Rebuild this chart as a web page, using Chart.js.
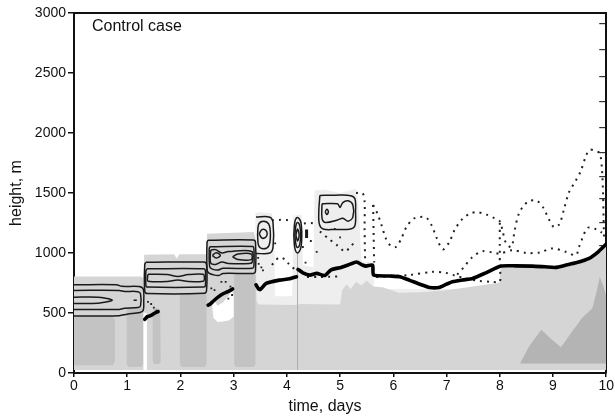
<!DOCTYPE html>
<html>
<head>
<meta charset="utf-8">
<script src="https://cdn.jsdelivr.net/npm/chart.js@4.4.1/dist/chart.umd.min.js"></script>
<style>
  body { margin: 0; background: #fff; }
  canvas { display: block; }
</style>
</head>
<body>
<canvas id="chart" width="615" height="419"></canvas>
<script>
// texts
const caseLabel = 'Control case';
const xTitle = 'time, days';
const yTitle = 'height, m';

// axis ticks (m)
const yTicks = [0, 500, 1000, 1500, 2000, 2500, 3000];
const rightTicks = [75, 164, 339, 516, 697, 880, 1065, 1251, 1455, 1640, 1835, 2048, 2258, 2471, 2694, 2910];

// grey field, [time in days, height in m]
const greyStreaks = [[0, 25], [3.41, 25], [3.41, 1335], [3.5, 1340], [3.72, 1330], [3.76, 1200], [3.78, 640], [4.1, 640], [4.12, 1310],
  [4.28, 1320], [4.3, 900], [4.5, 880], [4.52, 1520], [4.7, 1530], [5.0, 1500], [5.3, 1535], [5.35, 1400], [5.4, 930],
  [5.62, 920], [5.64, 700], [10, 700]];
const greyField = [[0, 805], [1.26, 805], [1.3, 790], [1.32, 985], [1.88, 990], [1.93, 955], [1.98, 990], [2.48, 990], [2.5, 1160],
  [3.38, 1175], [3.41, 1120], [3.43, 600], [3.47, 570], [4.15, 566], [4.25, 575], [5.0, 570], [5.04, 690], [5.12, 740],
  [5.2, 700], [5.3, 760], [5.4, 730], [5.5, 770], [5.62, 720], [5.8, 715], [6.1, 668], [6.5, 672], [7.0, 690], [7.5, 720],
  [7.99, 752], [8.02, 880], [8.6, 882], [9.05, 872], [9.4, 905], [9.7, 945], [10, 1060]];
const greyColumns = [
  [[0, 468], [0.72, 468], [0.77, 445], [0.77, 95], [0.73, 65], [0, 65]],
  [[1.02, 545], [1.27, 545], [1.3, 520], [1.3, 75], [1.27, 50], [1.02, 50], [0.99, 75], [0.99, 520]],
  [[1.49, 535], [1.6, 540], [1.62, 510], [1.63, 90], [1.6, 75], [1.5, 75], [1.48, 100], [1.48, 510]],
  [[2.02, 668], [2.46, 668], [2.49, 650], [2.49, 75], [2.46, 50], [2.02, 50], [1.99, 75], [1.99, 650]],
  [[3.04, 830], [3.38, 830], [3.41, 810], [3.41, 75], [3.38, 50], [3.04, 50], [3.01, 75], [3.01, 810]]
];
const greyHill = [[8.38, 80], [8.55, 220], [8.78, 360], [8.95, 290], [9.15, 215], [9.35, 340], [9.55, 460], [9.74, 540],
  [9.82, 680], [9.88, 800], [9.95, 720], [10, 640], [10, 80]];
const whiteGaps = [
  [[2.6, 620], [2.7, 560], [2.8, 590], [2.9, 640], [2.97, 690], [3.0, 640], [3.0, 470], [2.92, 440], [2.8, 430], [2.7, 425], [2.62, 460], [2.6, 540]],
  [[1.305, 505], [1.37, 500], [1.37, 25], [1.305, 25]]
];
const streakLine = [[4.2, 1000], [4.2, 25]];

// contour lines
const contours = [
  // day 0 - 1.3
  [[0, 735], [0.8, 735], [0.9, 722], [1.22, 720], [1.3, 700], [1.31, 600], [1.3, 520], [1.24, 505], [1.0, 490], [0.85, 478], [0, 474]],
  [[0, 688], [0.85, 688], [0.95, 680], [1.2, 678], [1.25, 660], [1.25, 560], [1.2, 545], [0.95, 540], [0.85, 530], [0, 530]],
  [[0, 632], [0.45, 632], [0.6, 622], [0.72, 607], [0.6, 592], [0.45, 582], [0, 580]],
  [[1.12, 607], [1.18, 607]],
  // day 1.3 - 2.5
  [[1.35, 922], [2.44, 924], [2.49, 905], [2.49, 685], [2.45, 664], [1.38, 662], [1.33, 680], [1.33, 905], [1.35, 922]],
  [[1.37, 868], [2.44, 868], [2.47, 850], [2.47, 730], [2.44, 716], [1.37, 716], [1.35, 730], [1.35, 850], [1.37, 868]],
  [[1.39, 822], [1.75, 820], [1.95, 805], [2.15, 820], [2.43, 822], [2.45, 800], [2.45, 780], [2.43, 765], [2.15, 762],
    [1.95, 776], [1.75, 762], [1.39, 765], [1.38, 790], [1.39, 822]],
  // day 2.5 - 3.4
  [[2.52, 1107], [3.37, 1108], [3.41, 1090], [3.41, 850], [3.37, 830], [2.8, 830], [2.72, 812], [2.62, 818], [2.53, 835], [2.5, 860], [2.5, 1090], [2.52, 1107]],
  [[2.55, 1052], [3.36, 1054], [3.38, 1035], [3.38, 890], [3.35, 872], [2.8, 872], [2.7, 858], [2.6, 866], [2.55, 885], [2.54, 1030], [2.55, 1052]],
  [[2.57, 1025], [2.66, 1028], [2.78, 1000], [2.9, 1012], [3.34, 1013], [3.35, 925], [3.3, 913], [2.9, 913], [2.78, 925], [2.66, 905], [2.57, 915], [2.56, 970], [2.57, 1025]],
  [[2.6, 980], [2.67, 1002], [2.75, 980], [2.67, 958], [2.6, 980]],
  [[2.98, 968], [3.08, 992], [3.33, 992], [3.33, 945], [3.08, 945], [2.98, 968]],
  // day 3.4 - 3.75
  [[3.42, 1300], [3.68, 1298], [3.74, 1250], [3.74, 1050], [3.68, 1000], [3.42, 996]],
  [[3.45, 1150], [3.47, 1240], [3.56, 1265], [3.66, 1240], [3.69, 1150], [3.66, 1060], [3.56, 1035], [3.47, 1060], [3.45, 1150]],
  [[3.48, 1160], [3.53, 1195], [3.6, 1190], [3.63, 1160], [3.6, 1130], [3.53, 1125], [3.48, 1160]],
  // day 4.2
  [[4.13, 1150], [4.15, 1260], [4.2, 1296], [4.26, 1260], [4.28, 1150], [4.26, 1040], [4.2, 1000], [4.15, 1040], [4.13, 1150]],
  [[4.15, 1150], [4.17, 1230], [4.2, 1255], [4.24, 1230], [4.26, 1150], [4.24, 1070], [4.2, 1045], [4.17, 1070], [4.15, 1150]],
  [[4.17, 1150], [4.2, 1200], [4.23, 1150], [4.2, 1100], [4.17, 1150]],
  // day 4.6 - 5.3
  [[4.62, 1480], [4.9, 1482], [5.2, 1478], [5.28, 1450], [5.29, 1350], [5.28, 1230], [5.2, 1200], [4.9, 1196], [4.68, 1200], [4.61, 1240], [4.6, 1350], [4.62, 1480]],
  [[4.66, 1410], [4.95, 1410], [5.0, 1380], [5.05, 1420], [5.15, 1435], [5.24, 1400], [5.24, 1300], [5.15, 1265], [5.05, 1290], [4.95, 1275], [4.72, 1255], [4.66, 1290], [4.66, 1410]],
  [[4.72, 1343], [4.75, 1365], [4.78, 1343], [4.75, 1320], [4.72, 1343]]
];
const blob = [[4.37, 1125], [4.37, 1195]];

// dotted lines
const dotWave = [[5.62, 1400], [5.7, 1330], [5.78, 1230], [5.86, 1120], [5.95, 1060], [6.05, 1050], [6.15, 1120], [6.25, 1220],
  [6.38, 1285], [6.5, 1300], [6.62, 1295], [6.72, 1230], [6.82, 1120], [6.93, 1030], [7.05, 1090], [7.15, 1190], [7.3, 1285],
  [7.45, 1330], [7.58, 1340], [7.75, 1320], [7.9, 1290], [8.0, 1265], [8.05, 1190], [8.12, 1080], [8.22, 1050], [8.28, 1190],
  [8.36, 1330], [8.46, 1400], [8.56, 1435], [8.7, 1435], [8.82, 1375], [8.93, 1275], [9.02, 1215], [9.12, 1240], [9.21, 1370],
  [9.3, 1505], [9.43, 1605], [9.52, 1680], [9.62, 1810], [9.69, 1860], [9.8, 1850], [9.88, 1830], [9.92, 1700], [9.94, 1500],
  [9.95, 1300], [9.96, 1100]];
const dotLow = [[5.68, 800], [6.0, 808], [6.3, 816], [6.74, 843], [6.98, 835], [7.15, 813], [7.36, 788], [7.61, 768], [7.86, 760],
  [8.0, 760], [8.0, 900], [8.0, 1080], [8.0, 1265]];
const dotLoop = [[7.2, 820], [7.33, 885], [7.49, 968], [7.68, 1015], [7.86, 1005], [8.0, 996], [8.24, 1024], [8.5, 1000],
  [8.75, 1005], [8.99, 1038], [9.24, 1010], [9.43, 982], [9.49, 1052], [9.55, 1120], [9.65, 1210], [9.8, 1200], [9.92, 1170]];
const dotShort = [
  [[5.3, 1500], [5.42, 1500], [5.46, 1430], [5.46, 1200], [5.47, 930]],
  [[5.62, 1400], [5.63, 1150], [5.64, 920]],
  [[3.72, 900], [3.77, 930], [3.86, 963], [3.96, 948], [4.03, 912], [4.1, 880], [4.17, 862]],
  [[3.72, 1272], [3.86, 1276], [4.0, 1274], [4.1, 1266]],
  [[4.32, 1246], [4.45, 1250], [4.58, 1240]],
  [[4.62, 1180], [4.78, 1120], [4.94, 1066], [5.1, 1012], [5.2, 1060], [5.31, 1095]],
  [[4.38, 800], [4.6, 800], [4.8, 803], [5.0, 806]]
];
const looseDots = [[1.39, 593], [1.45, 575], [1.5, 545], [1.55, 520], [2.58, 705], [2.64, 690], [2.77, 760], [2.85, 760],
  [2.94, 720], [2.9, 620], [2.97, 650], [3.46, 960], [3.47, 910], [3.52, 880], [3.55, 855], [4.3, 1050], [4.45, 1100],
  [4.56, 1010], [4.35, 920], [3.78, 1080], [4.9, 1200], [5.0, 1130]];

// thick line
const thickLines = [
  [[1.33, 447], [1.38, 470], [1.45, 480], [1.52, 500], [1.58, 512]],
  [[2.52, 566], [2.56, 575], [2.62, 600], [2.7, 630], [2.8, 660], [2.9, 680], [2.98, 700]],
  [[3.42, 735], [3.47, 700], [3.5, 695], [3.61, 746], [3.86, 774], [4.05, 785], [4.18, 802]],
  [[4.21, 863], [4.3, 835], [4.43, 816], [4.56, 830], [4.71, 812], [4.83, 860], [5.02, 880], [5.15, 900], [5.31, 925],
    [5.42, 900], [5.49, 891], [5.61, 899], [5.63, 816], [5.93, 808], [6.12, 802], [6.3, 774], [6.5, 740], [6.68, 713],
    [6.86, 713], [7.0, 740], [7.11, 760], [7.3, 775], [7.49, 788], [7.74, 835], [8.02, 891], [8.3, 893], [8.61, 891],
    [8.85, 885], [9.05, 880], [9.25, 900], [9.43, 918], [9.68, 955], [9.85, 1010], [10, 1074]]
];

function pts(arr) {
  return arr.map(p => ({ x: p[0], y: p[1] }));
}

const datasets = [];
let layer = 300;  // first added = drawn lowest
function add(data, opts) {
  datasets.push(Object.assign({
    data: pts(data), order: layer--, pointRadius: 0, pointHitRadius: 0,
    borderWidth: 0, borderColor: 'transparent', fill: false, tension: 0
  }, opts));
}

add(greyStreaks, { fill: { value: 25 }, backgroundColor: '#eeeeee' });
add(greyField, { fill: { value: 25 }, backgroundColor: '#d5d5d5' });
greyColumns.forEach(c => add(c, { fill: 'shape', backgroundColor: '#c3c3c3' }));
add(greyHill, { fill: 'shape', backgroundColor: '#b4b4b4' });
whiteGaps.forEach(c => add(c, { fill: 'shape', backgroundColor: '#ffffff' }));
add(streakLine, { borderWidth: 1, borderColor: '#b0b0b0' });
contours.forEach(c => add(c, { borderWidth: 1.5, borderColor: '#1a1a1a', tension: 0.35 }));
add(blob, { borderWidth: 3, borderColor: '#1a1a1a' });
[dotWave, dotLow, dotLoop].concat(dotShort).forEach(c =>
  add(c, { borderWidth: 2, borderColor: '#222', borderDash: [2, 5], tension: 0.3 }));
add(looseDots, { showLine: false, pointRadius: 1.3, pointStyle: 'rect', backgroundColor: '#222', borderWidth: 0 });
thickLines.forEach(c => add(c, { borderWidth: 3.6, borderColor: '#000', tension: 0.2, borderJoinStyle: 'round', borderCapStyle: 'round' }));

Chart.defaults.font.family = '"Liberation Sans", Arial, sans-serif';
Chart.defaults.color = '#111';

// plain texts inside and below the frame
const textPlugin = {
  id: 'texts',
  afterDraw(chart) {
    const ctx = chart.ctx;
    const area = chart.chartArea;
    ctx.save();
    ctx.fillStyle = '#111';
    ctx.font = '16px "Liberation Sans", Arial, sans-serif';
    ctx.textBaseline = 'alphabetic';
    ctx.textAlign = 'left';
    ctx.fillText(caseLabel, area.left + 18, area.top + 18);
    ctx.textAlign = 'center';
    ctx.fillText(xTitle, 325, 411);
    ctx.restore();
  }
};

new Chart(document.getElementById('chart'), {
  type: 'line',
  data: { datasets },
  options: {
    responsive: false,
    animation: false,
    layout: { padding: 0 },
    plugins: { legend: { display: false }, tooltip: { enabled: false } },
    scales: {
      x: {
        type: 'linear', position: 'bottom', min: 0, max: 10,
        ticks: { stepSize: 1, font: { size: 14 }, color: '#111', padding: 1, maxRotation: 0 },
        grid: { drawOnChartArea: false, drawTicks: true, tickLength: 4, color: '#111', lineWidth: 1.5 },
        border: { display: true, color: '#111', width: 2 },
        afterFit: s => { s.height = 46; }
      },
      xTop: {
        type: 'linear', position: 'top', min: 0, max: 10,
        ticks: { display: false },
        grid: { display: false },
        border: { display: true, color: '#111', width: 2 },
        afterFit: s => { s.height = 13; }
      },
      y: {
        type: 'linear', position: 'left', min: 0, max: 3000,
        afterBuildTicks: s => { s.ticks = yTicks.map(v => ({ value: v })); },
        ticks: { font: { size: 14 }, color: '#111', padding: 2, callback: v => String(v) },
        grid: { drawOnChartArea: false, drawTicks: true, tickLength: 6, color: '#111', lineWidth: 1.5 },
        border: { display: true, color: '#111', width: 2 },
        title: { display: true, text: yTitle, font: { size: 16 }, color: '#111', padding: { top: 7, bottom: 0 } },
        afterFit: s => { s.width = 74; }
      },
      yRight: {
        type: 'linear', position: 'right', min: 0, max: 3000,
        afterBuildTicks: s => { s.ticks = rightTicks.map(v => ({ value: v })); },
        ticks: { display: false },
        grid: { drawOnChartArea: false, drawTicks: true, tickLength: -7, color: '#333', lineWidth: 1.2 },
        border: { display: true, color: '#111', width: 2 },
        afterFit: s => { s.width = 8; }
      }
    }
  },
  plugins: [textPlugin]
});
</script>
</body>
</html>
